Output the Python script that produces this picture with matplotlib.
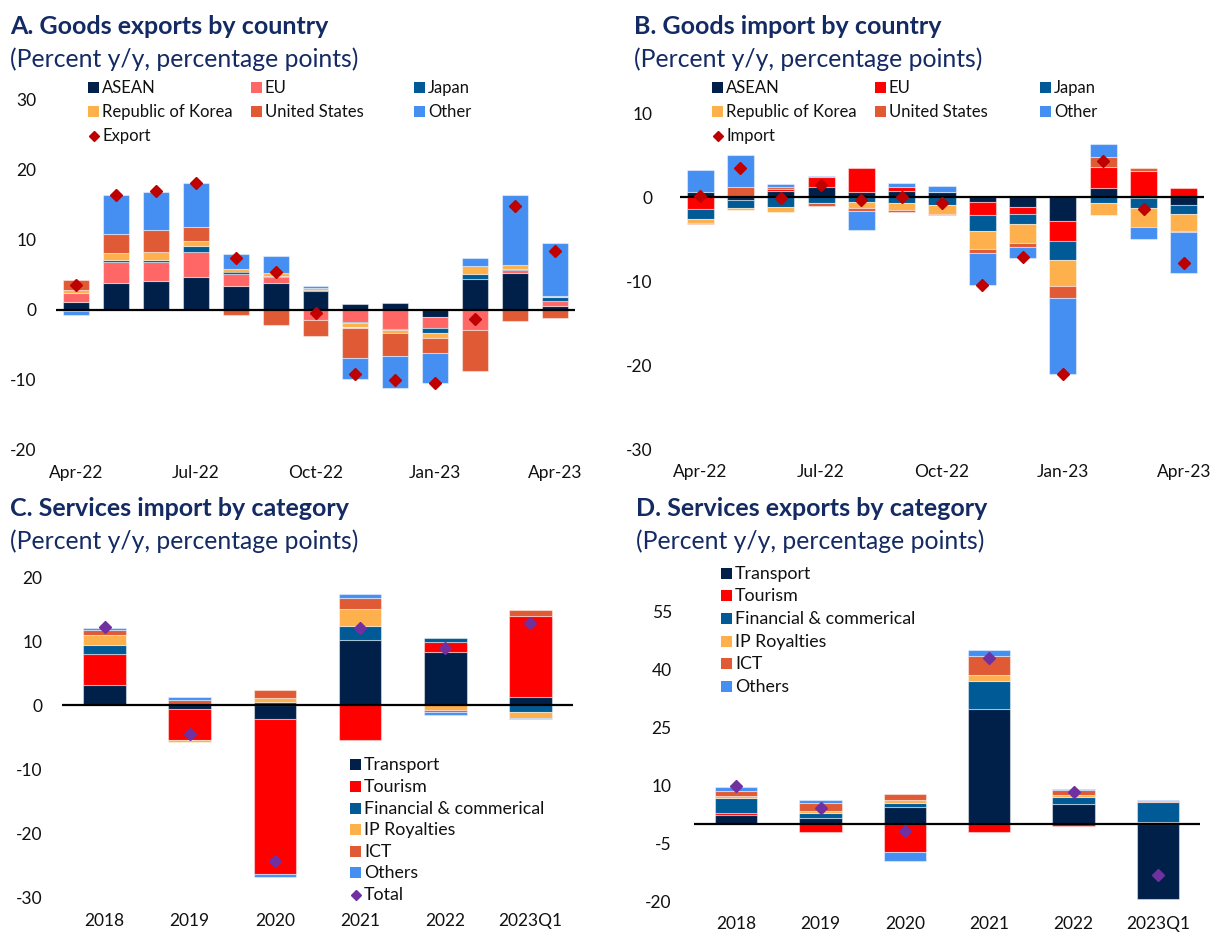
import numpy as np
import matplotlib
matplotlib.use("Agg")
import matplotlib.pyplot as plt
from matplotlib.patches import Rectangle
from matplotlib.lines import Line2D

plt.rcParams['font.family'] = ['Lato', 'DejaVu Sans']

# ---------------- data ----------------
months = ['Apr-22', 'May-22', 'Jun-22', 'Jul-22', 'Aug-22', 'Sep-22', 'Oct-22',
          'Nov-22', 'Dec-22', 'Jan-23', 'Feb-23', 'Mar-23', 'Apr-23']
month_ticks = ['Apr-22', 'Jul-22', 'Oct-22', 'Jan-23', 'Apr-23']

country_names = ['ASEAN', 'EU', 'Japan', 'Republic of Korea', 'United States', 'Other']

A_asean = [1.1, 3.8, 4.1, 4.7, 3.4, 3.8, 2.7, 0.8, 1.0, -1.0, 4.4, 5.3, 0.6]
A_eu = [1.3, 3.1, 2.7, 3.6, 1.7, 0.9, -1.4, -1.7, -2.7, -1.6, -2.9, 0.4, 0.7]
A_japan = [-0.2, 0.2, 0.4, 0.8, 0.4, 0.2, 0.2, -0.2, -0.1, -0.7, 0.8, 0.1, 0.5]
A_korea = [0.4, 1.1, 1.1, 0.8, 0.3, 0.4, 0.3, -0.6, -0.5, -0.7, 1.1, 0.6, 0.15]
A_us = [1.5, 2.7, 3.1, 1.9, -0.7, -2.2, -2.3, -4.3, -3.2, -2.2, -5.8, -1.6, -1.1]
A_other = [-0.5, 5.5, 5.5, 6.3, 2.2, 2.4, 0.2, -3.0, -4.6, -4.2, 1.1, 10.0, 7.6]
A_export = [3.6, 16.4, 17.0, 18.2, 7.4, 5.5, -0.4, -9.1, -10.0, -10.4, -1.3, 14.8, 8.5]

B_asean = [0.55, -0.35, 0.7, 1.25, 0.65, 0.7, 0.65, -0.55, -1.2, -2.85, 1.1, -0.1, -0.95]
B_eu = [-1.4, 0.0, 0.25, 1.1, 2.8, 0.5, 0.0, -1.65, -0.85, -2.4, 2.5, 3.1, 1.05]
B_japan = [-1.2, -1.0, -1.15, -0.7, -0.6, -0.7, -0.95, -1.8, -1.2, -2.25, -0.7, -1.2, -1.05]
B_korea = [-0.5, -0.25, -0.6, -0.05, -0.7, -0.8, -1.1, -2.2, -2.2, -3.05, -1.4, -2.3, -2.0]
B_us = [-0.1, 1.2, 0.2, -0.3, -0.4, -0.3, -0.1, -0.5, -0.45, -1.5, 1.2, 0.4, -0.15]
B_other = [2.65, 3.85, 0.45, 0.1, -2.2, 0.5, 0.7, -3.8, -1.35, -9.0, 1.5, -1.4, -4.85]
B_import = [0.1, 3.45, -0.1, 1.4, -0.4, 0.0, -0.75, -10.5, -7.2, -21.1, 4.25, -1.4, -7.9]

years = ['2018', '2019', '2020', '2021', '2022', '2023Q1']
service_names = ['Transport', 'Tourism', 'Financial & commerical', 'IP Royalties', 'ICT', 'Others']

C_transport = [3.2, -0.6, -2.1, 10.2, 8.25, 1.25]
C_tourism = [4.85, -4.8, -24.1, -5.4, 1.6, 12.7]
C_financial = [1.3, 0.2, 0.5, 2.2, 0.6, -1.0]
C_ip = [1.6, -0.25, 0.65, 2.55, -0.7, -0.95]
C_ict = [0.8, 0.7, 1.2, 1.8, -0.4, 0.9]
C_others = [0.35, 0.35, -0.5, 0.55, -0.35, -0.15]
C_total = [12.15, -4.4, -24.25, 12.1, 9.0, 12.8]

D_transport = [2.3, 1.55, 4.3, 29.65, 5.2, -19.4]
D_tourism = [0.4, -2.05, -7.3, -2.15, -0.5, 0.5]
D_financial = [3.9, 1.3, 0.95, 7.25, 1.8, 5.0]
D_ip = [0.5, 0.4, 0.85, 1.45, 0.5, 0.0]
D_ict = [1.45, 2.05, 1.65, 5.0, 1.3, 0.3]
D_others = [1.0, 0.7, -2.3, 1.45, 0.1, 0.25]
D_total = [9.65, 4.1, -1.9, 42.75, 8.2, -13.3]

# ---------------- styles ----------------
NAVY = '#00204a'
JAPAN = '#005a96'
KOREA = '#fdb04b'
US = '#e05a35'
OTHER = '#468ff2'
PINK = '#ff6666'
RED = '#ff0000'
DARKRED = '#c00000'
PURPLE = '#7030a0'
TITLE_C = '#132a63'

W, H = 1212, 932
fig = plt.figure(figsize=(W / 100, H / 100), dpi=100)


def rect(x0, x1, ytop, ybot):
    return [x0 / W, 1 - ybot / H, (x1 - x0) / W, (ybot - ytop) / H]


def stacked(ax, series, colors, width):
    n = len(series[0])
    x = np.arange(n)
    pos = np.zeros(n)
    neg = np.zeros(n)
    for vals, c in zip(series, colors):
        v = np.asarray(vals, dtype=float)
        bottom = np.where(v >= 0, pos, neg)
        ax.bar(x, v, bottom=bottom, width=width, color=c,
               edgecolor=(1, 1, 1, 0.45), linewidth=0.8, zorder=2)
        pos += np.clip(v, 0, None)
        neg += np.clip(v, None, 0)
    return x


def style_axes(ax, ylim, yticks, xticks, xlabels, ypad):
    ax.set_ylim(*ylim)
    ax.set_yticks(yticks)
    ax.set_yticklabels([str(t) for t in yticks])
    ax.set_xticks(xticks)
    ax.set_xticklabels(xlabels)
    for s in ax.spines.values():
        s.set_visible(False)
    ax.tick_params(axis='both', length=0, labelsize=12.5, colors='#111111')
    ax.tick_params(axis='y', pad=ypad)
    ax.tick_params(axis='x', pad=11)
    ax.axhline(0, color='black', lw=1.6, zorder=3)


def titles(x, y, title, sub):
    fig.text(x / W, 1 - y / H, title, fontsize=18, fontweight='bold',
             color=TITLE_C, va='center', ha='left')
    fig.text(x / W, 1 - (y + 32) / H, sub, fontsize=17.8,
             color=TITLE_C, va='center', ha='left')


def legend_entry(x, y, label, color, kind='square', fs=12.5):
    if kind == 'square':
        fig.patches.append(Rectangle(((x) / W, 1 - (y + 5) / H), 11 / W, 11 / H,
                                     transform=fig.transFigure, facecolor=color,
                                     edgecolor='none'))
    else:
        fig.lines.append(Line2D([(x + 5.5) / W], [1 - y / H], marker='D',
                                markersize=4.8, color=color, linestyle='none',
                                transform=fig.transFigure))
    fig.text((x + 14) / W, 1 - y / H, label, fontsize=fs, color='#111111',
             va='center', ha='left')


# ---------------- Panel A ----------------
axA = fig.add_axes(rect(56, 575, 100, 450))
colsA = [NAVY, PINK, JAPAN, KOREA, US, OTHER]
xA = stacked(axA, [A_asean, A_eu, A_japan, A_korea, A_us, A_other], colsA, 0.65)
axA.plot(xA, A_export, linestyle='none', marker='D', markersize=6.5,
         color=DARKRED, zorder=4)
axA.set_xlim(-0.5, len(months) - 0.5)
style_axes(axA, (-20, 30), [-20, -10, 0, 10, 20, 30],
           [months.index(m) for m in month_ticks], month_ticks, 14)
titles(10, 27, 'A. Goods exports by country', '(Percent y/y, percentage points)')
legA_x = [88, 251, 414]
legA_y = [88, 112, 136]
for i, (nm, c) in enumerate(zip(country_names, colsA)):
    legend_entry(legA_x[i % 3], legA_y[i // 3], nm, c, fs=12)
legend_entry(legA_x[0], legA_y[2], 'Export', DARKRED, kind='diamond', fs=12)

# ---------------- Panel B ----------------
axB = fig.add_axes(rect(680, 1204, 113, 449))
colsB = [NAVY, RED, JAPAN, KOREA, US, OTHER]
xB = stacked(axB, [B_asean, B_eu, B_japan, B_korea, B_us, B_other], colsB, 0.67)
axB.plot(xB, B_import, linestyle='none', marker='D', markersize=6.5,
         color=DARKRED, zorder=4)
axB.set_xlim(-0.5, len(months) - 0.5)
style_axes(axB, (-30, 10), [-30, -20, -10, 0, 10],
           [months.index(m) for m in month_ticks], month_ticks, 20)
titles(634, 27, 'B. Goods import by country', '(Percent y/y, percentage points)')
legB_x = [712, 875, 1040]
for i, (nm, c) in enumerate(zip(country_names, colsB)):
    legend_entry(legB_x[i % 3], legA_y[i // 3], nm, c, fs=12)
legend_entry(legB_x[0], legA_y[2], 'Import', DARKRED, kind='diamond', fs=12)

# ---------------- Panel C ----------------
colsS = [NAVY, RED, JAPAN, KOREA, US, OTHER]
axC = fig.add_axes(rect(62, 573, 577, 898))
xC = stacked(axC, [C_transport, C_tourism, C_financial, C_ip, C_ict, C_others],
             colsS, 0.5)
axC.plot(xC, C_total, linestyle='none', marker='D', markersize=6.3,
         color=PURPLE, zorder=4)
axC.set_xlim(-0.5, len(years) - 0.5)
style_axes(axC, (-30, 20), [-30, -20, -10, 0, 10, 20], list(range(len(years))),
           years, 14)
titles(10, 509, 'C. Services import by category', '(Percent y/y, percentage points)')
legC_y = [765, 787, 809, 830, 852, 873]
for nm, c, yy in zip(service_names, colsS, legC_y):
    legend_entry(350, yy, nm, c, fs=12.8)
legend_entry(350, 895, 'Total', PURPLE, kind='diamond', fs=12.8)

# ---------------- Panel D ----------------
axD = fig.add_axes(rect(694, 1200, 611, 901))
xD = stacked(axD, [D_transport, D_tourism, D_financial, D_ip, D_ict, D_others],
             colsS, 0.5)
axD.plot(xD, D_total, linestyle='none', marker='D', markersize=6.3,
         color=PURPLE, zorder=4)
axD.set_xlim(-0.5, len(years) - 0.5)
style_axes(axD, (-20, 55), [-20, -5, 10, 25, 40, 55], list(range(len(years))),
           years, 16)
titles(636, 509, 'D. Services exports by category', '(Percent y/y, percentage points)')
legD_y = [574, 596, 619, 642, 664, 687]
for nm, c, yy in zip(service_names, colsS, legD_y):
    legend_entry(721, yy, nm, c, fs=12.8)

fig.savefig('out.png', dpi=100)
